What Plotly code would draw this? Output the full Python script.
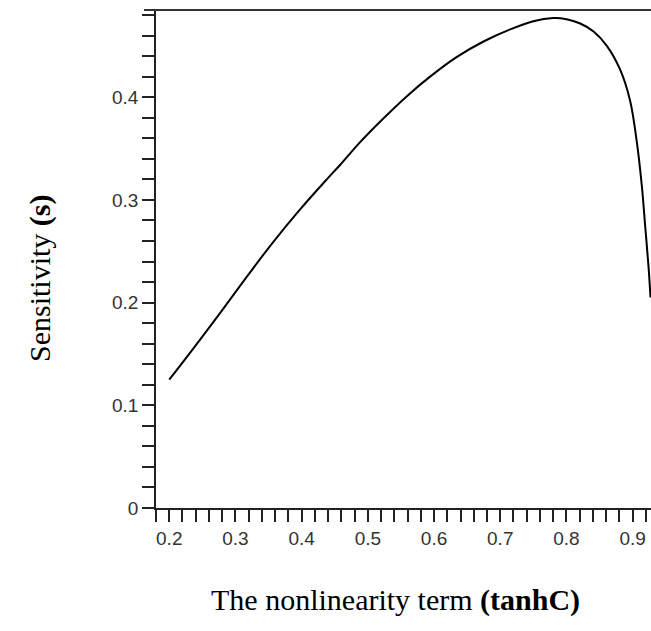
import plotly.graph_objects as go

# Data
tanhC = [0.200, 0.236, 0.277, 0.317, 0.357, 0.398, 0.438, 0.458, 0.488, 0.523,
         0.559, 0.594, 0.634, 0.674, 0.715, 0.750, 0.780, 0.800, 0.820, 0.841,
         0.861, 0.881, 0.896, 0.906, 0.914, 0.919, 0.924, 0.927]
sensitivity = [0.125, 0.155, 0.190, 0.225, 0.259, 0.291, 0.320, 0.334, 0.356, 0.379,
               0.401, 0.420, 0.439, 0.454, 0.466, 0.474, 0.477, 0.476, 0.472, 0.464,
               0.450, 0.427, 0.397, 0.358, 0.313, 0.274, 0.235, 0.205]

x_tickvals = [0.2, 0.3, 0.4, 0.5, 0.6, 0.7, 0.8, 0.9]
x_ticktext = ["0.2", "0.3", "0.4", "0.5", "0.6", "0.7", "0.8", "0.9"]
y_tickvals = [0, 0.1, 0.2, 0.3, 0.4]
y_ticktext = ["0", "0.1", "0.2", "0.3", "0.4"]

W, H = 651, 631
L, T, B = 156, 10, 123
plot_w = W - L
plot_h = H - T - B

fig = go.Figure()
fig.add_trace(go.Scatter(
    x=tanhC, y=sensitivity, mode="lines",
    line=dict(color="black", width=2, shape="spline", smoothing=1.0),
    showlegend=False, hoverinfo="skip"))

tickfont = dict(family="Liberation Sans, Arial, sans-serif", size=19, color="#333")
fig.update_xaxes(
    range=[0.18, 0.18 + plot_w / 662.0],
    tickvals=x_tickvals, ticktext=x_ticktext,
    ticks="outside", ticklen=12, tickwidth=1.5, tickcolor="#222",
    minor=dict(dtick=0.02, tick0=0.0, ticks="outside", ticklen=12, tickwidth=1.5, tickcolor="#222"),
    showline=True, linecolor="#222", linewidth=1.5,
    showgrid=False, zeroline=False, tickfont=tickfont)
fig.update_yaxes(
    range=[0, plot_h / 1027.0],
    tickvals=y_tickvals, ticktext=y_ticktext,
    ticks="outside", ticklen=12, tickwidth=1.5, tickcolor="#222",
    minor=dict(dtick=0.02, tick0=0.0, ticks="outside", ticklen=12, tickwidth=1.5, tickcolor="#222"),
    showline=True, linecolor="#222", linewidth=1.5,
    showgrid=False, zeroline=False, tickfont=tickfont)

# top border line
fig.add_shape(type="line", xref="paper", yref="paper",
              x0=-12 / plot_w, x1=1, y0=1, y1=1,
              line=dict(color="#333", width=2))

titlefont = dict(family="Liberation Serif, Times New Roman, serif", size=30, color="black")
fig.add_annotation(text="Sensitivity <b>(s)</b>", textangle=-90,
                   xref="paper", yref="paper",
                   x=(40 - L) / plot_w, y=(T + plot_h - 278) / plot_h,
                   xanchor="center", yanchor="middle", showarrow=False, font=titlefont)
fig.add_annotation(text="The nonlinearity term <b>(tanhC)</b>",
                   xref="paper", yref="paper",
                   x=(395 - L) / plot_w, y=(T + plot_h - 600) / plot_h,
                   xanchor="center", yanchor="middle", showarrow=False, font=titlefont)

fig.update_layout(
    width=W, height=H,
    margin=dict(l=L, r=0, t=T, b=B, pad=0),
    paper_bgcolor="white", plot_bgcolor="white")

fig.write_html("out.html")
